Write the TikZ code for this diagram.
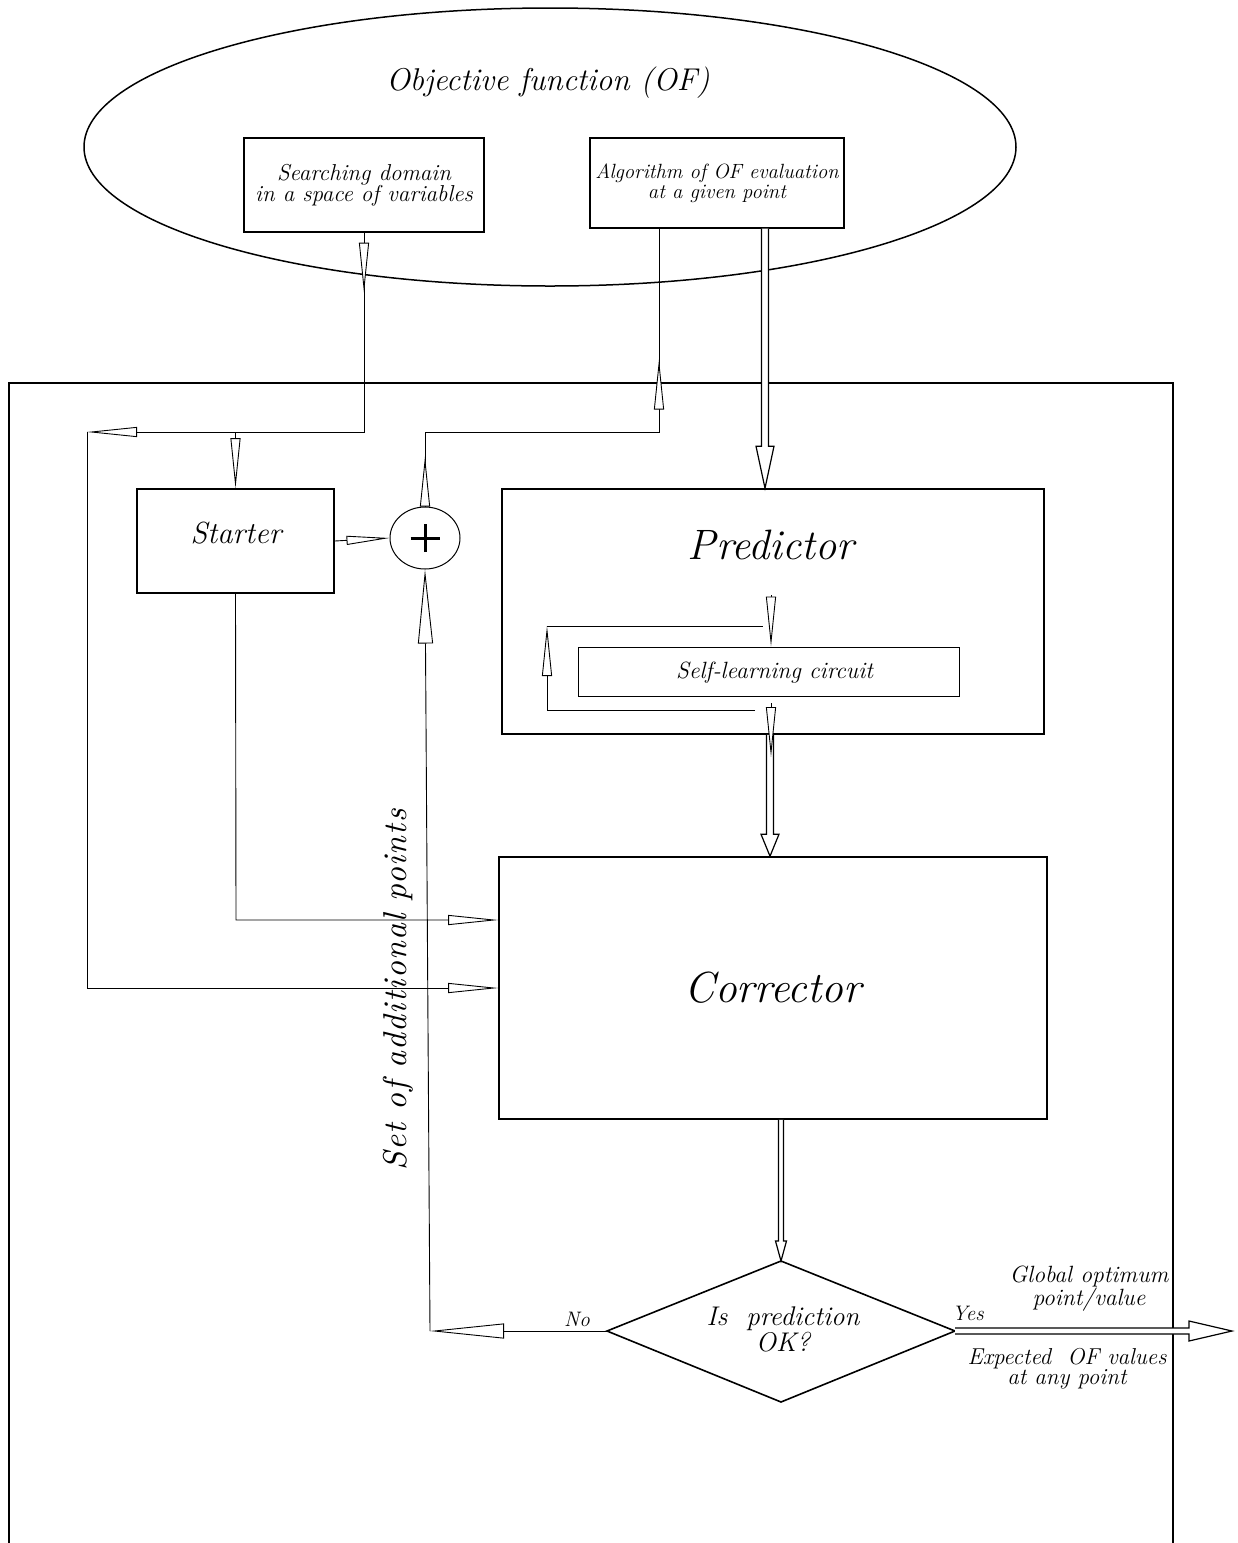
\documentclass[tikz,border=0pt]{standalone}
\usepackage{fontspec}
\usetikzlibrary{arrows.meta,calc,decorations.markings,shapes.geometric}
\newfontfamily\spacedit{lmroman10-italic.otf}[LetterSpace=4]
\newcommand\fsz[2]{\fontsize{#1}{#2}\selectfont}
\newcommand\blockarr[5]{%
  \coordinate (bah) at ($(#2)!#3!(#1)$);
  \draw[blockline] ($(#1)!#5!90:(#2)$) -- ($(bah)!#5!90:(#2)$) -- ($(bah)!#4!90:(#2)$) -- (#2)
     -- ($(bah)!#4!-90:(#2)$) -- ($(bah)!#5!-90:(#2)$) -- ($(#1)!#5!-90:(#2)$);
}
\tikzset{
  thinTip/.tip={Triangle[length=50pt,width=10pt,fill=white]},
  smallTip/.tip={Triangle[length=43pt,width=9pt,fill=white]},
  bigTip/.tip={Triangle[length=74pt,width=15pt,fill=white]},
  conn/.style={line width=0.9pt},
  bx/.style={draw, line width=1.6pt, inner sep=0pt},
  bxthin/.style={draw, line width=1.3pt, inner sep=0pt},
  blockline/.style={draw, line width=1.2pt, fill=white, line join=miter},
  lbl/.style={inner sep=0pt, align=center},
}
\begin{document}
\begin{tikzpicture}[x=1pt,y=-1pt]
\useasboundingbox (0,0) rectangle (1238,1543);

% objective function ellipse
\node[draw, ellipse, line width=1.5pt, minimum width=932pt, minimum height=278pt, inner sep=0pt] (ofell) at (550,147) {};
\node[lbl, font=\itshape\fsz{31.5}{37}] (oft) at (548,83) {Objective function (OF)};
\node[bxthin, minimum width=240pt, minimum height=94pt, align=center, font=\itshape\fsz{23}{21}] (sd) at (364,185) {Searching domain\\in a space of variables};
\node[bxthin, minimum width=254pt, minimum height=90pt, align=center, font=\itshape\fsz{20.6}{20}] (alg) at (717,183) {Algorithm of OF evaluation\\at a given point};

% outer frame
\draw[line width=1.6pt] (9,1543) -- (9,383) -- (1173,383) -- (1173,1543);

% blocks
\node[bx, minimum width=197pt, minimum height=104pt] (st) at (235.5,541) {};
\node[lbl, font=\itshape\fsz{30.5}{36}] (stt) at (236,533) {Starter};
\node[draw, ellipse, line width=1pt, minimum width=70pt, minimum height=62pt, inner sep=0pt] (sum) at (425,538) {};
\draw[line width=3pt] ([xshift=-14.5pt]sum.center) -- ([xshift=14.5pt]sum.center);
\draw[line width=3pt] ([yshift=-14pt]sum.center) -- ([yshift=14pt]sum.center);

\node[bx, minimum width=542pt, minimum height=245pt] (pred) at (773,611.5) {};
\node[lbl, font=\itshape\fsz{42.5}{48}] (predt) at (771,545) {Predictor};
\node[draw, line width=1pt, inner sep=0pt, minimum width=381pt, minimum height=49pt] (slc) at (768.5,671.5) {};
\node[lbl, font=\itshape\fsz{23.5}{26}] (slct) at (774.5,673) {Self-learning circuit};

\node[bx, minimum width=548pt, minimum height=262pt, font=\itshape\fsz{43.5}{48}] (corr) at (773,988) {Corrector};

% decision diamond
\coordinate (dT) at (781,1261);
\coordinate (dR) at (955,1331);
\coordinate (dB) at (781,1402);
\coordinate (dL) at (607,1331);
\draw[line width=1.6pt] (dT) -- (dR) -- (dB) -- (dL) -- cycle;
\node[lbl, font=\itshape\fsz{27}{26}] (dq) at (783,1329) {Is~~prediction\\OK?};

% labels
\node[lbl, font=\itshape\fsz{21}{20}] (no) at (577,1319) {No};
\node[lbl, font=\itshape\fsz{21}{20}] (yes) at (968,1313) {Yes};
\node[lbl, font=\itshape\fsz{23.5}{21}] (glob) at (1089,1289) {Global optimum\\point/value};
\node[lbl, font=\itshape\fsz{23}{20}] (expv) at (1067,1369) {Expected~~OF values\\at any point};
\node[lbl, rotate=90, font=\spacedit\fsz{33}{34}] (setp) at (398,990) {Set of additional points};

% helper coordinates
\coordinate (j1) at (364,432);
\coordinate (j2) at (87,432);
\coordinate (j3) at (87,988);
\coordinate (j4) at (st.north |- j1);
\coordinate (k1) at (sum.north |- j1);
\coordinate (k2) at (659,432);
\coordinate (k3) at (k2 |- alg.south);
\coordinate (n1) at (236,920);
\coordinate (m1) at (430,1331);
\coordinate (l1) at (755,710);
\coordinate (l2) at (547,710);
\coordinate (l3) at (547,626);
\coordinate (l4) at (763,626);
\coordinate (sa1) at (771,595);
\coordinate (sa2) at (771,703);
\coordinate (sa3) at (771,757);
\coordinate (A1) at ($(alg.south)+(48,0)$);
\coordinate (A2) at ($(pred.north)+(-8,0)$);
\coordinate (B1) at ($(pred.south)+(-3,0)$);
\coordinate (B2) at ($(corr.north)+(-3,0)$);
\coordinate (C1) at ($(corr.south)+(8,0)$);
\coordinate (D2) at (1232,1331);

% block (double) arrows
\blockarr{A1}{A2}{42pt}{9pt}{3.5pt}
\blockarr{B1}{B2}{22pt}{9pt}{3.5pt}
\blockarr{C1}{dT}{20pt}{5.5pt}{2.5pt}
\blockarr{dR}{D2}{43pt}{10pt}{3pt}

% thin connectors
\draw[conn, -{thinTip},
  postaction={decorate, decoration={markings, mark=at position 60pt with {\arrow{thinTip}}}}]
  (sd.south) -- (j1) -- (j2);
\draw[conn, -{thinTip}] (j4) -- (st.north);
\draw[conn, -{thinTip}] (j2) -- (j3) -- (j3 -| corr.west);
\draw[conn, -{thinTip}] (st.south) -- (n1) -- (n1 -| corr.west);
\draw[conn, -{smallTip}] (st.east) -- (sum.west);
\draw[conn,
  postaction={decorate, decoration={markings,
     mark=at position 50pt with {\arrow{thinTip}},
     mark=at position 381pt with {\arrow{thinTip}}}}]
  (sum.north) -- (k1) -- (k2) -- (k3);
\draw[conn, -{bigTip}] (dL) -- (m1);
\draw[conn, -{bigTip}] (m1) -- (sum.south);

% self-learning loop
\draw[conn, -{thinTip}] (l1) -- (l2) -- (l3);
\draw[conn] (l3) -- (l4);
\draw[conn, -{thinTip}] (sa1) -- (sa1 |- slc.north);
\draw[conn, -{thinTip}] (sa2) -- (sa3);
\end{tikzpicture}
\end{document}
